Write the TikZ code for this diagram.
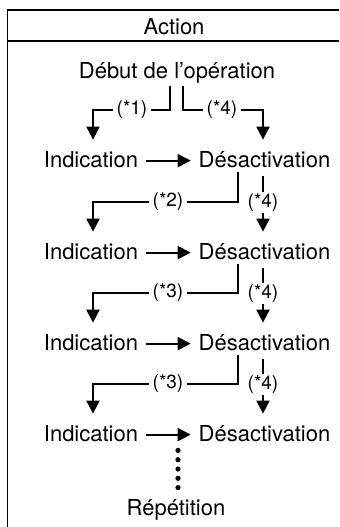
\documentclass[tikz,border=0pt]{standalone}
\usepackage{fontspec}
\setmainfont{TeX Gyre Heros}
\usetikzlibrary{arrows.meta}

\begin{document}
\begin{tikzpicture}[
    x=0.5pt, y=-0.5pt,
    every node/.style={font=\fontsize{11}{13}\selectfont, anchor=base},
    txt/.style={inner xsep=3.8pt, inner ysep=0pt, text height=13.5pt, text depth=2.5pt},
    tag/.style={font=\fontsize{9.5}{11}\selectfont, inner xsep=1.5pt, inner ysep=0.5pt, anchor=center},
    lin/.style={line width=1pt},
    arr/.style={-{Triangle[length=6.5pt,width=6.5pt]}, line width=1pt},
    dots/.style={line width=2.6pt, line cap=round, dash pattern=on 0pt off 4.65pt},
    frame/.style={line width=0.8pt}
]
\useasboundingbox (0,0) rectangle (339,527);
% table frame
\draw[frame] (339,10) -- (7.5,10) -- (7.5,527);
\draw[frame] (7.5,41) -- (339,41);
\node (title) at (174,34) {Action};

\node (start) [txt] at (177,78) {Début de l’opération};
\node (ind1) [txt] at (91,167) {Indication};
\node (des1) [txt] at (264.5,167) {Désactivation};
\node (ind2) [txt] at (91,259) {Indication};
\node (des2) [txt] at (264.5,259) {Désactivation};
\node (ind3) [txt] at (91,350) {Indication};
\node (des3) [txt] at (264.5,350) {Désactivation};
\node (ind4) [txt] at (91,441) {Indication};
\node (des4) [txt] at (264.5,441) {Désactivation};
\node (rep) [txt] at (176,515) {Répétition};

% branch labels
\node (l1) [tag] at (132,110) {(*1)};
\node (r1) [tag] at (222,110) {(*4)};
\node (l2) [tag] at (168,202) {(*2)};
\node (r2) [tag] at (263,203) {(*4)};
\node (l3) [tag] at (168,293) {(*3)};
\node (r3) [tag] at (263,294) {(*4)};
\node (l4) [tag] at (168,384) {(*3)};
\node (r4) [tag] at (263,385) {(*4)};

% from start
\draw[lin, shorten <=1.5pt] ([xshift=-3.25pt]start.south) |- (l1.east);
\draw[arr] (l1.west) -| ([xshift=1pt]ind1.north);
\draw[lin, shorten <=1.5pt] ([xshift=3.25pt]start.south) |- (r1.west);
\draw[arr] (r1.east) -| ([xshift=-0.75pt]des1.north);

% row 1 -> row 2
\draw[arr] ([yshift=3.2pt]ind1.base east) -- ([yshift=3.2pt]des1.base west);
\draw[lin] ([xshift=-13.25pt]des1.south) |- (l2.east);
\draw[arr] (l2.west) -| ([xshift=1pt]ind2.north);
\draw[lin, shorten <=2pt, shorten >=0.5pt] (des1.south -| r2) -- (r2.north);
\draw[arr] (r2.south) -- (des2.north -| r2);

% row 2 -> row 3
\draw[arr] ([yshift=3.2pt]ind2.base east) -- ([yshift=3.2pt]des2.base west);
\draw[lin] ([xshift=-13.25pt]des2.south) |- (l3.east);
\draw[arr] (l3.west) -| ([xshift=1pt]ind3.north);
\draw[lin, shorten <=2pt, shorten >=0.5pt] (des2.south -| r3) -- (r3.north);
\draw[arr] (r3.south) -- (des3.north -| r3);

% row 3 -> row 4
\draw[arr] ([yshift=3.2pt]ind3.base east) -- ([yshift=3.2pt]des3.base west);
\draw[lin] ([xshift=-13.25pt]des3.south) |- (l4.east);
\draw[arr] (l4.west) -| ([xshift=1pt]ind4.north);
\draw[lin, shorten <=2pt, shorten >=0.5pt] (des3.south -| r4) -- (r4.north);
\draw[arr] (r4.south) -- (des4.north -| r4);

% row 4 and repeat
\draw[arr] ([yshift=3.2pt]ind4.base east) -- ([yshift=3.2pt]des4.base west);
\draw[dots, shorten >=1.9pt] ([xshift=1pt]rep.north) -- ([xshift=1pt]rep.north |- ind4.south);
\end{tikzpicture}
\end{document}
